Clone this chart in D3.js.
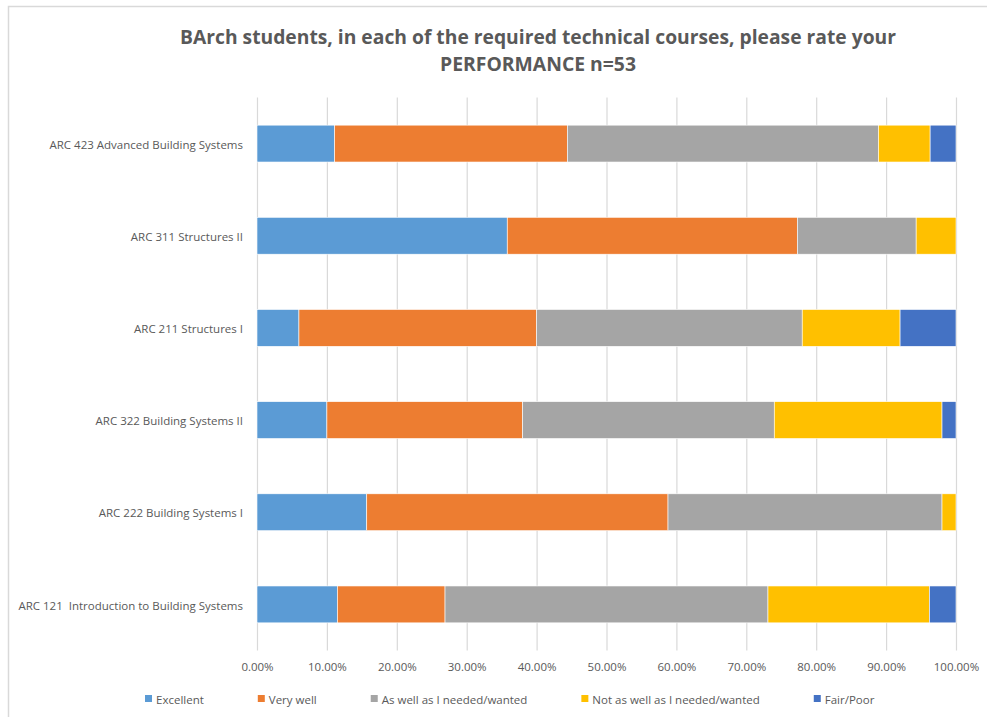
<!DOCTYPE html>
<html>
<head>
<meta charset="utf-8">
<script src="https://cdn.jsdelivr.net/npm/d3@7"></script>
<style>
  body { margin: 0; background: #fff; }
  svg { display: block; }
  text { font-family: "Liberation Sans Narrow", "Open Sans", sans-serif; fill: #595959; }
</style>
</head>
<body>
<svg id="chart"></svg>
<script>
// survey data, shares per course (top row first)
let courses = [
    "ARC 423 Advanced Building Systems",
    "ARC 311 Structures II",
    "ARC 211 Structures I",
    "ARC 322 Building Systems II",
    "ARC 222 Building Systems I",
    "ARC 121  Introduction to Building Systems"
];
let ratings = ["Excellent", "Very well", "As well as I needed/wanted", "Not as well as I needed/wanted", "Fair/Poor"];
let excellent = [0.111, 0.358, 0.060, 0.100, 0.157, 0.115];
let veryWell = [0.333, 0.415, 0.340, 0.280, 0.431, 0.154];
let asWell = [0.445, 0.170, 0.380, 0.360, 0.392, 0.462];
let notAsWell = [0.074, 0.057, 0.140, 0.240, 0.020, 0.231];
let fairPoor = [0.037, 0.000, 0.080, 0.020, 0.000, 0.038];
let colors = ["#5B9BD5", "#ED7D31", "#A5A5A5", "#FFC000", "#4472C4"];
let xTicks = [0, 0.1, 0.2, 0.3, 0.4, 0.5, 0.6, 0.7, 0.8, 0.9, 1.0];
let titleLines = ["BArch students, in each of the required technical courses, please rate your", "PERFORMANCE n=53"];

function drawChart() {
    let width = 987, height = 717;
    let svg = d3.select("#chart").attr("width", width).attr("height", height);

    // chart border (runs off the right/bottom of the picture)
    svg.append("rect")
        .attr("x", 8.5).attr("y", 6.5)
        .attr("width", 1100).attr("height", 800)
        .attr("fill", "none")
        .attr("stroke", "#D9D9D9")
        .attr("stroke-width", 1.5);

    let left = 257, right = 956, top = 97.5, bottom = 650.5;

    let x = d3.scaleLinear().domain([0, 1]).range([left, right]);
    let y = d3.scaleBand().domain(courses).range([top, bottom])
        .paddingInner(0.6).paddingOuter(0.3);

    // grid + x labels
    let xAxis = d3.axisBottom(x).tickValues(xTicks)
        .tickFormat(d3.format(".2%"))
        .tickSize(-(bottom - top)).tickPadding(12);
    let gx = svg.append("g")
        .attr("transform", "translate(0," + bottom + ")")
        .call(xAxis);
    gx.select(".domain").remove();
    gx.selectAll("line").attr("stroke", "#D9D9D9").attr("stroke-width", 1.2);
    gx.selectAll("text").attr("font-size", "11.5px").attr("fill", "#595959");

    // stacked bars
    let series = [excellent, veryWell, asWell, notAsWell, fairPoor];
    let rows = courses.map(function (c, i) {
        let row = {course: c};
        ratings.forEach(function (r, k) { row[r] = series[k][i]; });
        return row;
    });
    let stacked = d3.stack().keys(ratings)(rows);

    svg.append("g").selectAll("g").data(stacked)
        .enter().append("g")
        .attr("fill", function (d, k) { return colors[k]; })
        .selectAll("rect").data(function (d) { return d; })
        .enter().append("rect")
        .attr("x", function (d) { return x(d[0]); })
        .attr("y", function (d) { return y(d.data.course); })
        .attr("width", function (d) { return Math.max(0, x(d[1]) - x(d[0])); })
        .attr("height", y.bandwidth())
        .attr("stroke", "#fff")
        .attr("stroke-width", 0.6);

    // y labels
    let gy = svg.append("g")
        .attr("transform", "translate(" + left + ",0)")
        .call(d3.axisLeft(y).tickSize(0).tickPadding(14));
    gy.select(".domain").remove();
    gy.selectAll("text").attr("font-size", "11.5px").attr("fill", "#595959")
        .attr("dy", "0.45em")
        .style("white-space", "pre");

    // title
    svg.append("text")
        .attr("x", 538).attr("y", 44)
        .attr("text-anchor", "middle")
        .attr("font-size", "20px").attr("font-weight", "bold")
        .attr("textLength", 716).attr("lengthAdjust", "spacingAndGlyphs")
        .text(titleLines[0]);
    svg.append("text")
        .attr("x", 538).attr("y", 71)
        .attr("text-anchor", "middle")
        .attr("font-size", "20px").attr("font-weight", "bold")
        .attr("textLength", 196).attr("lengthAdjust", "spacingAndGlyphs")
        .text(titleLines[1]);

    // legend
    let legend = svg.append("g").attr("transform", "translate(145,695)");
    let lx = 0;
    ratings.forEach(function (r, k) {
        let item = legend.append("g").attr("transform", "translate(" + lx + ",0)");
        item.append("rect").attr("width", 7).attr("height", 7).attr("fill", colors[k]);
        let t = item.append("text").attr("x", 11).attr("y", 8.5)
            .attr("font-size", "11.5px").text(r);
        lx += 11 + t.node().getComputedTextLength() + 54;
    });
}

drawChart();
</script>
</body>
</html>
